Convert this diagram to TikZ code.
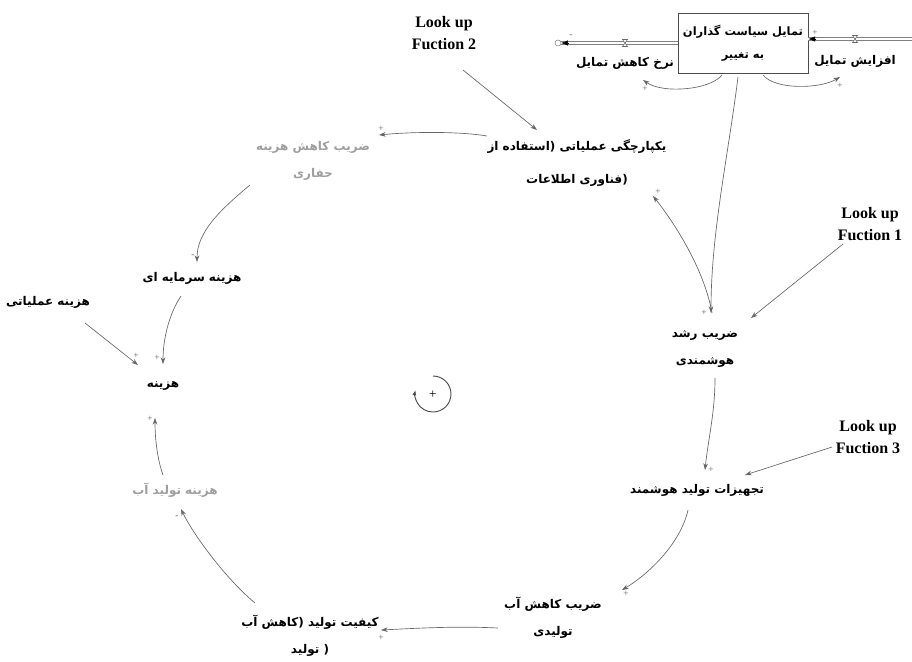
\documentclass[tikz,border=0pt]{standalone}
\usepackage{fontspec}
\setmainfont{Liberation Serif}
\newfontfamily\arfont[Script=Arabic]{DejaVu Sans}
\TeXXeTstate=1
\usetikzlibrary{calc,arrows.meta}
\newcommand{\AR}[1]{\beginR #1\endR}
\tikzset{
 lbl/.style={font=\arfont\bfseries\fontsize{9}{20}\selectfont, align=center, inner sep=1pt},
 glbl/.style={font=\arfont\bfseries\fontsize{9}{20}\selectfont, align=center, inner sep=1pt, text=black!38},
 lk/.style={font=\bfseries\fontsize{12}{17}\selectfont, align=center, inner sep=1pt},
 arr/.style={draw=black!60, line width=0.5pt, -{Stealth[length=5pt,width=3.5pt]}},
 pol/.style={font=\fontsize{7}{7}\selectfont, text=black!60, inner sep=0pt},
 pipe/.style={draw=black!50, line width=0.5pt, double=white, double distance=1.6pt},
}
\begin{document}
\begin{tikzpicture}[x=0.75pt,y=-0.75pt]
\useasboundingbox (0,0) rectangle (912,661);
% stock and flows
\node[draw=black!70, line width=0.6pt, minimum width=97.5pt, minimum height=45pt, align=center, inner sep=1pt, font=\arfont\bfseries\fontsize{8.6}{17}\selectfont] (box) at (743,43) {\AR{تمایل سیاست گذاران}\\\AR{به تغییر}};
\node[draw=black!50, circle, inner sep=0pt, minimum size=4.5pt, fill=white] (cloud) at (558,43) {};
\coordinate (src) at (912,39);
\coordinate (v1) at (625,43);
\coordinate (v2) at (855,39);
\node[lbl] (nkt) at (625,63) {\AR{نرخ کاهش تمایل}};
\node[lbl] (infl) at (855,61) {\AR{افزایش تمایل}};
\draw[pipe] (box.west |- cloud) -- (cloud.east);
\draw[-{Latex[length=5pt,width=4pt]}, black] ($(cloud.east)+(8,0)$) -- (cloud.east);
\draw[pipe] (src) -- (box.east |- src);
\draw[-{Latex[length=5pt,width=4pt]}, black] ($(box.east |- src)+(8,0)$) -- (box.east |- src);
\foreach \v in {v1,v2}{
  \draw[black!60, line width=0.4pt, fill=white] ($(\v)+(-2.5,-3.5)$) -- ($(\v)+(2.5,-3.5)$) -- ($(\v)+(-2.5,3.5)$) -- ($(\v)+(2.5,3.5)$) -- cycle;
}
\node[pol] (pm1) at (571,36) {-};
\node[pol] (pm2) at (815,33) {+};
% main variables
\node[lk] (lk2) at (444,33) {Look up\\Fuction 2};
\node[lk] (lk1) at (870,224) {Look up\\Fuction 1};
\node[lk] (lk3) at (868,437) {Look up\\Fuction 3};
\node[lbl, font=\arfont\bfseries\fontsize{9}{25}\selectfont] (yek) at (577,163) {\AR{یکپارچگی عملیاتی (استفاده از}\\\AR{(فناوری اطلاعات}};
\node[lbl] (zrh) at (705,349) {\AR{ضریب رشد}\\\AR{هوشمندی}};
\node[lbl] (tjh) at (697,490) {\AR{تجهیزات تولید هوشمند}};
\node[lbl] (zka) at (553,618) {\AR{ضریب کاهش آب}\\\AR{تولیدی}};
\node[lbl] (kft) at (310,636) {\AR{کیفیت تولید (کاهش آب}\\\AR{( تولید}};
\node[glbl] (hta) at (175,490) {\AR{هزینه تولید آب}};
\node[lbl] (hz) at (163,386) {\AR{هزینه}};
\node[lbl] (hom) at (48,302) {\AR{هزینه عملیاتی}};
\node[lbl] (hsm) at (192,278) {\AR{هزینه سرمایه ای}};
\node[glbl] (zkh) at (313,161) {\AR{ضریب کاهش هزینه}\\\AR{حفاری}};
% connectors
\draw[arr] ($(box)+(-21,32)$) .. controls +(-12,15) and +(20,14) .. ($(nkt)+(18,17)$);
\draw[arr] ($(box)+(20,32)$) .. controls +(12,15) and +(-20,12) .. ($(infl)+(-15,16)$);
\draw[arr] ($(box)+(-5,34)$) .. controls +(-10,80) and +(0,-80) .. ($(zrh)+(6,-36)$);
\draw[arr] ($(lk2)+(19,37)$) -- ($(yek)+(-40,-33)$);
\draw[arr] ($(yek)+(-90,-27)$) .. controls +(-30,-5) and +(30,-3) .. ($(zkh)+(66,-26)$);
\draw[arr] ($(zkh)+(-63,24)$) .. controls +(-30,25) and +(0,-30) .. ($(hsm)+(5,-16)$);
\draw[arr] ($(hsm)+(-11,18)$) .. controls +(-12,18) and +(0,-25) .. ($(hz)+(0,-22)$);
\draw[arr] ($(hom)+(37,21)$) -- ($(hz)+(-25,-21)$);
\draw[arr] ($(hta)+(-12,-15)$) .. controls +(-7,-20) and +(0,15) .. ($(hz)+(-8,32)$);
\draw[arr] ($(kft)+(-55,-33)$) .. controls +(-30,-25) and +(12,25) .. ($(hta)+(6,19)$);
\draw[arr] ($(zka)+(-55,10)$) .. controls +(-40,-2) and +(40,-2) .. ($(kft)+(71,-6)$);
\draw[arr] ($(tjh)+(-9,20)$) .. controls +(-8,35) and +(25,-15) .. ($(zka)+(69,-28)$);
\draw[arr] ($(zrh)+(10,29)$) .. controls +(0,35) and +(3,-30) .. ($(tjh)+(8,-20)$);
\draw[arr] ($(lk3)+(-36,10)$) -- ($(tjh)+(48,-15)$);
\draw[arr] ($(lk1)+(-27,20)$) -- ($(zrh)+(46,-31)$);
\draw[arr] ($(zrh)+(7,-36)$) .. controls +(-8,-45) and +(20,25) .. ($(yek)+(76,33)$);
% polarity marks
\node[pol] (q1) at (645,89) {+};
\node[pol] (q2) at (840,86) {+};
\node[pol] (q3) at (704,313) {+};
\node[pol] (q4) at (381,129) {+};
\node[pol] (q5) at (193,256) {-};
\node[pol] (q6) at (157,358) {+};
\node[pol] (q7) at (136,356) {+};
\node[pol] (q8) at (150,419) {+};
\node[pol] (q9) at (177,517) {-};
\node[pol] (q10) at (381,638) {+};
\node[pol] (q11) at (626,594) {+};
\node[pol] (q12) at (711,470) {+};
\node[pol] (q13) at (658,192) {+};
% loop symbol
\node[font=\fontsize{10}{10}\selectfont, inner sep=0pt] (loopc) at (433,395) {+};
\begin{scope}[shift={(433,394)}, x=0.75pt, y=0.75pt]
\draw[draw=black!55, line width=0.7pt, -{Latex[length=4pt,width=3pt]}, black!70] (0,18) arc[start angle=90, end angle=-193, radius=18];
\end{scope}
\end{tikzpicture}
\end{document}
